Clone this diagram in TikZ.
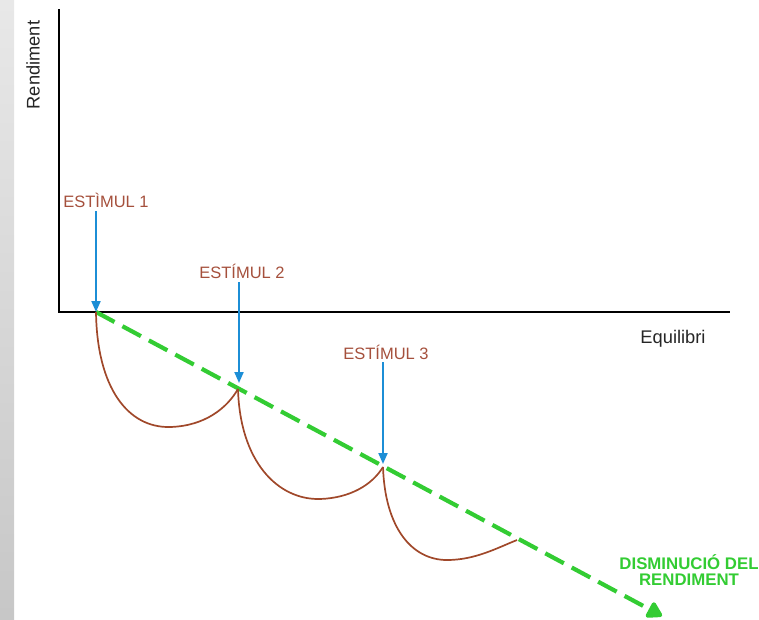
\documentclass[tikz,border=0pt]{standalone}
\usepackage{fontspec}
\setmainfont{Liberation Sans}
\usetikzlibrary{arrows.meta}
\definecolor{stimbrown}{HTML}{A5503C}
\definecolor{curvebrown}{HTML}{A0482A}
\definecolor{stimblue}{HTML}{1C8ED6}
\definecolor{dropgreen}{HTML}{33CC33}
\tikzset{
  axisline/.style={line width=2pt, black},
  axislabel/.style={font=\fontsize{18.3}{20}\selectfont, text=black!85, inner sep=0pt},
  stimlabel/.style={font=\fontsize{16.5}{20}\selectfont, text=stimbrown, inner sep=0pt},
  stimarrow/.style={line width=2pt, stimblue, -{Triangle[length=11pt,width=9pt]}},
  dropline/.style={line width=4.2pt, dropgreen, dash pattern=on 21pt off 9pt, -{Triangle[length=17pt,width=19pt,round]}},
  dip/.style={line width=1.7pt, curvebrown},
  droplabel/.style={font=\bfseries\fontsize{16.8}{15.5}\selectfont, text=dropgreen, align=center, inner sep=0pt}
}
\begin{document}
\begin{tikzpicture}[x=1pt,y=-1pt]
\useasboundingbox (0,0) rectangle (759,619);
\shade[top color=black!9, bottom color=black!22] (0,0) rectangle (14,619);
% axes
\coordinate (ytop) at (59,9);
\coordinate (origin) at (59,312);
\coordinate (xend) at (730,312);
\draw[axisline] (ytop) -- (origin) -- (xend);
\node[axislabel, rotate=90] (rend) at (33,65) {Rendiment};
\node[axislabel] (equil) at (673,339) {Equilibri};
% points
\coordinate (p1) at (96,312);
\coordinate (p2) at (238,389);
\coordinate (p3) at (383,467);
\coordinate (p4) at (517,540);
\coordinate (gend) at (662,616);
% green decline
\draw[dropline] (p1) -- (gend);
% brown dips
\draw[dip] (p1) .. controls (97,388) and (128,428) .. (170,427)
               .. controls (205,426) and (227,408) .. (p2);
\draw[dip] (p2) .. controls (240,462) and (278,500) .. (320,499)
               .. controls (350,498) and (372,485) .. (p3);
\draw[dip] (p3) .. controls (385,528) and (412,560) .. (447,560)
               .. controls (475,560) and (497,548) .. (p4);
% stimuli
\node[stimlabel] (s1) at (106,200) {ESTÌMUL 1};
\node[stimlabel] (s2) at (242,271) {ESTÍMUL 2};
\node[stimlabel] (s3) at (386,352) {ESTÍMUL 3};
\coordinate (t1) at (96,312);
\coordinate (t2) at (239,383);
\coordinate (t3) at (383,464);
\draw[stimarrow] (s1.south -| t1) ++(0,4) -- (t1);
\draw[stimarrow] (s2.south -| t2) ++(0,4) -- (t2);
\draw[stimarrow] (s3.south -| t3) ++(0,3) -- (t3);
\node[droplabel] (dl) at (689,570) {DISMINUCIÓ DEL\\RENDIMENT};
\end{tikzpicture}
\end{document}
